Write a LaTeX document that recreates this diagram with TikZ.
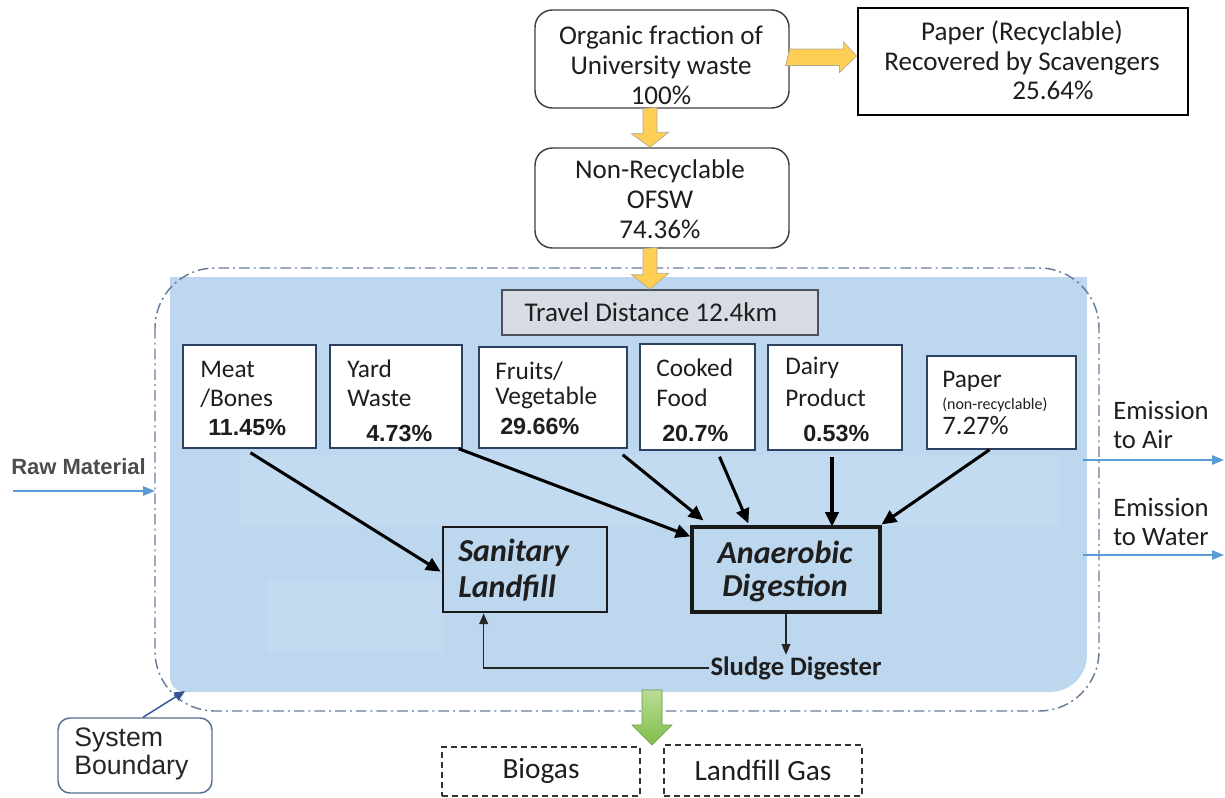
\documentclass[tikz,border=0pt]{standalone}
\usepackage{fontspec}
\setmainfont{Carlito}
\newfontfamily\arialfont{Liberation Sans}
\usetikzlibrary{arrows.meta,calc,fit}

\definecolor{panelblue}{RGB}{189,215,238}
\definecolor{panellight}{RGB}{194,219,240}
\definecolor{boundline}{RGB}{105,125,155}
\definecolor{flowblue}{RGB}{91,155,213}
\definecolor{arrowgold}{RGB}{255,206,84}
\definecolor{goldedge}{RGB}{175,170,150}
\definecolor{leafgreen}{RGB}{130,190,75}
\definecolor{leaflight}{RGB}{185,220,150}
\definecolor{catedge}{RGB}{45,65,100}
\definecolor{traveledge}{RGB}{75,80,90}
\definecolor{travelfill}{RGB}{214,219,228}
\definecolor{inktext}{RGB}{30,30,30}
\definecolor{sbedge}{RGB}{85,110,145}
\definecolor{sbarrow}{RGB}{50,85,150}

\tikzset{
  x=0.75pt, y=-0.75pt,
  every node/.style={text=inktext},
  roundbox/.style={draw=black!75, line width=1.1pt, rounded corners=13pt, inner sep=0pt, fill=white},
  heavybox/.style={draw=black, line width=2.2pt, inner sep=0pt, fill=white},
  catbox/.style={draw=catedge, line width=1.1pt, inner sep=0pt, fill=white},
  travelbox/.style={draw=traveledge, line width=1.1pt, inner sep=0pt, fill=travelfill},
  procbox/.style={draw=black!90, line width=2pt, inner sep=0pt},
  gasbox/.style={draw=black!80, line width=1.1pt, dash pattern=on 4.5pt off 3pt, inner sep=0pt, fill=white},
  sbbox/.style={draw=sbedge, line width=1.1pt, rounded corners=9pt, inner sep=0pt, fill=white},
  toptext/.style={align=center, font=\fontsize{20.3}{22.5}\selectfont, inner sep=0pt},
  cattext/.style={anchor=west, font=\fontsize{19}{22}\selectfont, inner sep=0pt},
  pcttext/.style={anchor=west, font=\arialfont\bfseries\fontsize{17.5}{20}\selectfont, inner sep=0pt},
  proctext/.style={anchor=west, font=\bfseries\itshape\fontsize{24}{26}\selectfont, inner sep=0pt},
  sidetext/.style={anchor=west, align=left, font=\fontsize{20}{22}\selectfont, inner sep=0pt},
  blackarrow/.style={draw=black, line width=2.3pt, -{Triangle[length=11pt,width=10pt]}},
  thinarrow/.style={draw=black!85, line width=1.1pt, -{Triangle[length=8pt,width=6.5pt]}},
  bluearrow/.style={draw=flowblue, line width=1.3pt, -{Triangle[length=9pt,width=7pt]}},
  goldarrow/.style={fill=arrowgold, draw=goldedge, line width=0.5pt},
}

\begin{document}
\begin{tikzpicture}
\useasboundingbox (0,0) rectangle (1225,797);

% system panel and its boundary
\fill[panelblue] (170,277) -- (1087,277) -- (1087,655)
  .. controls (1087,675.4) and (1070.4,692) .. (1050,692) -- (185,692)
  .. controls (176.7,692) and (170,685.3) .. (170,677) -- cycle;
\fill[panellight] (240,455) rectangle (1060,526);
\fill[panellight] (267,580) rectangle (443,652);
\draw[boundline, line width=1.1pt, dash pattern=on 8pt off 3pt on 1.5pt off 3pt,
      rounded corners=45pt] (155,268) rectangle (1099,711);

% top boxes
\node[roundbox, fit={(535,10) (789,108)}] (org) {};
\node[toptext] (orgtxt) at (661,65) {Organic fraction of\\University waste\\100\%};
\node[heavybox, fit={(858,8) (1188,115)}] (rec) {};
\node[toptext] (rectxt) at (1022,48) {Paper (Recyclable)\\Recovered by Scavengers};
\node[toptext] (recpct) at (1053,90) {25.64\%};
\node[roundbox, fit={(535,148) (789,248)}] (nonrec) {};
\node[toptext] (nonrectxt) at (660,199) {Non-Recyclable\\OFSW\\74.36\%};

% yellow flow arrows
\path[goldarrow] ($(org.east)+(0,-10)$) -- ++(54,0) -- ++(0,-7) -- ($(rec.west)+(0,-5.5)$)
  -- ++(-17,16.5) -- ++(0,-7) -- ++(-54,0) -- cycle;
\path[goldarrow] ($(org.south)+(-19,0)$) -- ++(0,25) -- ++(-11.5,0) -- ($(nonrec.north)+(-12,0)$)
  -- ++(18.5,-15) -- ++(-11.5,0) -- ++(0,-25) -- cycle;

% travel distance
\node[travelbox, fit={(502,290) (818,335)}] (travel) {};
\node[toptext] (traveltxt) at (651,312) {Travel Distance 12.4km};
\path[goldarrow] ($(nonrec.south)+(-19,0)$) -- ++(0,26) -- ++(-11.5,0) -- ($(travel.north)+(-10,0)$)
  -- ++(18.5,-16) -- ++(-11.5,0) -- ++(0,-26) -- cycle;

% waste categories
\node[catbox, fit={(183,345) (316,448)}] (meat) {};
\node[cattext] (meat1) at (200,369) {Meat};
\node[cattext] (meat2) at (200,398) {/Bones};
\node[pcttext] (meat3) at (208,427) {11.45\%};

\node[catbox, fit={(330,345) (462,448)}] (yard) {};
\node[cattext] (yard1) at (347,369) {Yard};
\node[cattext] (yard2) at (347,398) {Waste};
\node[pcttext] (yard3) at (366,433) {4.73\%};

\node[catbox, fit={(479,347) (627,448)}] (fruit) {};
\node[cattext] (fruit1) at (495,371) {Fruits/};
\node[cattext] (fruit2) at (495,398) {Vegetable};
\node[pcttext] (fruit3) at (500,426) {29.66\%};

\node[catbox, fit={(640,344) (755,450)}] (cook) {};
\node[cattext] (cook1) at (656,368) {Cooked};
\node[cattext] (cook2) at (656,398) {Food};
\node[pcttext] (cook3) at (662,433) {20.7\%};

\node[catbox, fit={(768,345) (902,450)}] (dairy) {};
\node[cattext] (dairy1) at (785,368) {Dairy};
\node[cattext] (dairy2) at (785,398) {Product};
\node[pcttext] (dairy3) at (803,433) {0.53\%};

\node[catbox, fit={(927,356) (1076,449)}] (paper) {};
\node[cattext] (paper1) at (942,381) {Paper};
\node[cattext, font=\fontsize{12}{13}\selectfont] (paper2) at (942,405) {(non-recyclable)};
\node[cattext, font=\fontsize{20}{22}\selectfont] (paper3) at (942,426) {7.27\%};

% treatment processes
\node[procbox, fit={(443,527) (607,612)}] (sanit) {};
\node[proctext] (sanit1) at (458,553) {Sanitary};
\node[proctext] (sanit2) at (458,588) {Landfill};
\node[procbox, line width=2.4pt, fit={(692,527) (880,612)}] (anaer) {};
\node[proctext, anchor=center] (anaer1) at (785,552) {Anaerobic};
\node[proctext, anchor=center] (anaer2) at (785,588) {Digestion};
\node[font=\bfseries\fontsize{20}{22}\selectfont, inner sep=1pt] (sludge) at (796,668) {Sludge Digester};

% flows into the processes
\draw[blackarrow] ($(meat.south)+(1,4)$) -- ($(sanit.north west)+(-1,46)$);
\draw[blackarrow] ($(yard.south east)+(-4,0)$) -- ($(anaer.north west)+(0,11)$);
\draw[blackarrow] ($(fruit.south east)+(-5,6)$) -- ($(anaer.north west)+(13,-5)$);
\draw[blackarrow] ($(cook.south)+(22,6)$) -- ($(anaer.north west)+(58,-2)$);
\draw[blackarrow] ($(dairy.south)+(-3,6)$) -- ($(dairy.south)+(-3,76)$);
\draw[blackarrow] ($(paper.south)+(-12,0)$) -- ($(anaer.north east)+(0,-1)$);
\draw[thinarrow] (anaer.south) -- (anaer.south |- sludge.north);
\draw[thinarrow] (sludge.west) -| ($(sanit.south west)+(42,0)$);

% exchanges across the boundary
\node[anchor=west, font=\arialfont\bfseries\fontsize{16.5}{19}\selectfont, text=black!70, inner sep=0pt] (raw) at (11,467) {Raw Material};
\coordinate (rawstart) at (13,491);
\coordinate (rawend) at (155,491);
\draw[bluearrow] (rawstart) -- (rawend);

\node[sidetext] (air) at (1113,425) {Emission\\to Air};
\coordinate (airstart) at (1083,460);
\coordinate (airend) at (1224,460);
\draw[bluearrow] (airstart) -- (airend);
\node[sidetext] (water) at (1113,522) {Emission\\to Water};
\coordinate (waterstart) at (1083,555);
\coordinate (waterend) at (1224,555);
\draw[bluearrow] (waterstart) -- (waterend);

% system boundary label
\node[sbbox, fit={(58,718) (212,793)}] (sbox) {};
\node[anchor=west, align=left, font=\arialfont\fontsize{20}{21}\selectfont, text=black!85, inner sep=0pt] (sbtxt) at (74,754) {System\\Boundary};
\coordinate (sbtip) at (185,691);
\draw[sbarrow, line width=1.1pt, -{Triangle[length=8pt,width=7pt]}] ($(sbox.north)+(8,0)$) -- (sbtip);

% outputs
\node[gasbox, fit={(442,747) (640,796)}] (biogas) {};
\node[font=\fontsize{22}{24}\selectfont, inner sep=0pt] (biogastxt) at (541,771) {Biogas};
\node[gasbox, fit={(664,745) (862,796)}] (lfgas) {};
\node[font=\fontsize{22}{24}\selectfont, inner sep=0pt] (lfgastxt) at (763,770) {Landfill Gas};
\shade[top color=leaflight, bottom color=leafgreen, draw=leafgreen!80!black, line width=0.4pt]
  (642,690) -- (662,690) -- (662,725) -- (672,725) -- (652,745) -- (632,725) -- (642,725) -- cycle;
\end{tikzpicture}
\end{document}
